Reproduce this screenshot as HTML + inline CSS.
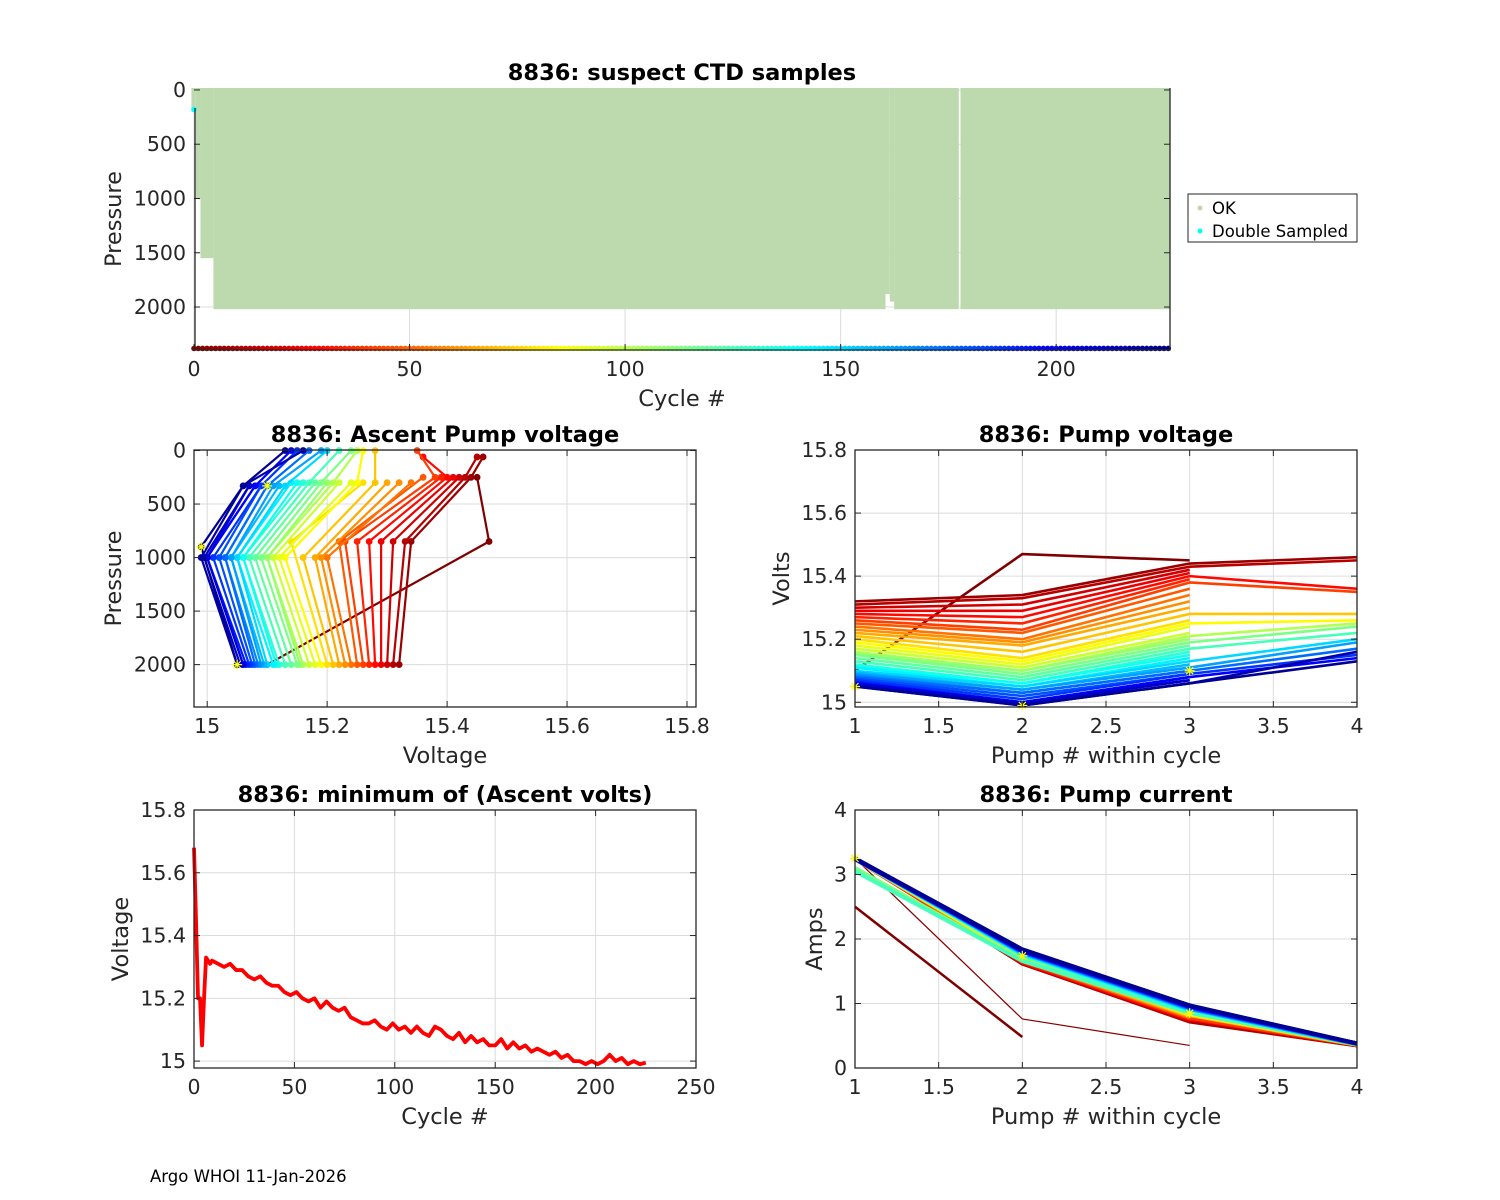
<!DOCTYPE html>
<html><head><meta charset="utf-8"><style>
body{margin:0;background:#fff;}
svg{display:block;font-family:"DejaVu Sans","Liberation Sans",sans-serif;}
.tk{font-size:20.5px;fill:#262626;}
.tt{font-size:22.5px;font-weight:bold;fill:#000;}
.al{font-size:22.5px;fill:#262626;}
</style></head><body>
<svg id="fig" width="1500" height="1200" viewBox="0 0 1500 1200" xmlns="http://www.w3.org/2000/svg">
<rect width="1500" height="1200" fill="#fff"/>
<text x="150" y="1182" font-size="16.5" fill="#000">Argo WHOI 11-Jan-2026</text>
</svg>
<script>
// ---------- data ----------
const nCycles = 227;
// profile depth segments: [startCycle, endCycle, maxPressure]
const segStart = [-0.6, 0.4, 1.5, 4.5, 160.4, 161.4, 162.4, 177.8];
const segEnd   = [0.4, 1.5, 4.5, 160.4, 161.4, 162.4, 177.4, 226.3];
const segMaxP  = [180, 1000, 1550, 2020, 1880, 1950, 2020, 2020];
const doubleSampledCycle = [0];
const doubleSampledP = [180];
const bottomP = 2400;

const sampCycles = [0,6,12,18,24,30,36,42,48,54,60,66,72,78,84,90,96,102,108,114,120,126,132,138,144,150,156,162,168,174,180,186,192,198,204,210,216,222];
const pump1V = [15.10,15.32,15.31,15.30,15.29,15.28,15.27,15.26,15.25,15.24,15.23,15.22,15.21,15.20,15.19,15.18,15.17,15.16,15.155,15.15,15.14,15.13,15.12,15.115,15.11,15.10,15.095,15.09,15.085,15.08,15.075,15.07,15.065,15.06,15.06,15.055,15.05,15.05];
const pump2V = [15.47,15.34,15.33,15.31,15.29,15.27,15.25,15.23,15.22,15.20,15.19,15.18,15.16,15.14,15.13,15.12,15.11,15.10,15.10,15.09,15.08,15.07,15.06,15.06,15.05,15.05,15.04,15.04,15.03,15.03,15.02,15.01,15.00,15.00,15.00,14.995,14.99,14.99];
const pump3V = [15.45,15.44,15.43,15.42,15.41,15.40,15.39,15.38,15.36,15.34,15.32,15.30,15.28,15.26,15.25,15.24,15.22,15.21,15.20,15.19,15.18,15.17,15.16,15.15,15.14,15.13,15.12,15.11,15.10,15.10,15.09,15.09,15.08,15.08,15.07,15.07,15.06,15.06];
const pump4V = [null,15.46,15.45,null,null,15.36,null,15.35,null,null,null,null,15.28,null,15.26,null,null,15.25,null,15.24,null,15.22,null,null,null,15.20,null,15.19,null,15.17,null,15.15,null,15.14,null,null,15.16,15.13];
const pump1P = [2000,2000,2000,2000,2000,2000,2000,2000,2000,2000,2000,2000,2000,2000,2000,2000,2000,2000,2000,2000,2000,2000,2000,2000,2000,2000,2000,2000,2000,2000,2000,2000,2000,2000,2000,2000,2000,2000];
const pump2P = [850,850,850,850,850,850,850,850,850,1000,1000,1000,1000,850,1000,1000,1000,1000,1000,1000,1000,1000,1000,1000,1000,1000,1000,1000,1000,1000,1000,1000,1000,1000,1000,1000,1000,900];
const pump3P = [250,250,250,250,250,250,250,250,250,300,300,300,300,300,300,300,300,300,300,300,300,300,300,300,300,330,330,330,330,330,330,330,330,330,330,330,330,330];
const pump4P = [60,60,60,60,60,60,0,0,0,0,0,0,0,0,0,0,0,0,0,0,0,0,0,0,0,0,0,0,0,0,0,0,0,0,0,0,0,0];
const pump1A = [2.50,3.25,3.25,3.25,3.24,3.25,3.25,3.24,3.25,3.25,3.24,3.25,3.25,3.25,3.24,3.25,3.25,3.24,3.25,3.10,3.25,3.05,3.25,3.24,3.25,3.25,3.24,3.25,3.25,3.24,3.25,3.25,3.24,3.25,3.25,3.24,3.25,3.25];
const pump2A = [0.48,1.62,1.62,1.63,1.64,1.64,1.65,1.66,1.67,1.67,1.68,1.69,1.70,1.70,1.71,1.72,1.72,1.73,1.74,1.66,1.75,1.66,1.76,1.76,1.77,1.78,1.78,1.79,1.79,1.80,1.80,1.81,1.81,1.82,1.82,1.83,1.83,1.84];
const pump3A = [null,0.72,0.73,0.74,0.75,0.76,0.77,0.78,0.79,0.80,0.80,0.81,0.82,0.83,0.84,0.85,0.85,0.86,0.87,0.85,0.88,0.86,0.89,0.90,0.90,0.91,0.92,0.92,0.93,0.93,0.94,0.94,0.95,0.95,0.96,0.96,0.97,0.97];
const pump4A = [null,0.35,0.35,null,null,0.36,null,0.36,null,null,null,null,0.36,null,0.37,null,null,0.37,null,0.37,null,0.37,null,null,null,0.37,null,0.37,null,0.38,null,0.38,null,0.38,null,null,0.38,0.38];
// anomalous early cycle current trace
const anomalyCycle = 2;
const anomalyA = [3.25, 0.76, 0.35];
const minCycles = [0,1,2,3,4,5,6,7,8,9,12,15,18,21,24,27,30,33,36,39,42,45,48,51,54,57,60,63,66,69,72,75,78,81,84,87,90,93,96,99,102,105,108,111,114,117,120,123,126,129,132,135,138,141,144,147,150,153,156,159,162,165,168,171,174,177,180,183,186,189,192,195,198,201,204,207,210,213,216,219,222,225];
const minVolts = [15.68,15.45,15.20,15.20,15.05,15.20,15.33,15.32,15.31,15.32,15.31,15.30,15.31,15.29,15.29,15.27,15.26,15.27,15.25,15.24,15.24,15.22,15.21,15.22,15.20,15.19,15.20,15.17,15.19,15.17,15.16,15.17,15.14,15.13,15.12,15.12,15.13,15.11,15.10,15.12,15.10,15.11,15.09,15.11,15.09,15.08,15.11,15.10,15.08,15.07,15.09,15.06,15.08,15.06,15.07,15.05,15.05,15.07,15.04,15.06,15.04,15.05,15.03,15.04,15.03,15.02,15.03,15.01,15.02,15.00,15.00,14.99,15.00,14.99,15.00,15.02,15.00,15.01,14.99,15.00,14.99,14.995];
const ticks1X = [0,50,100,150,200], ticks1Y = [0,500,1000,1500,2000];
const ticks2X = [15,15.2,15.4,15.6,15.8], ticks2Y = [0,500,1000,1500,2000];
const ticksPumpX = [1,1.5,2,2.5,3,3.5,4];
const ticksVoltY = [15,15.2,15.4,15.6,15.8];
const ticks4X = [0,50,100,150,200,250];
const ticksAmpY = [0,1,2,3,4];

// ---------- helpers ----------
const NS = "http://www.w3.org/2000/svg";
const svg = document.getElementById('fig');
function mk(tag, attrs, parent){ const e=document.createElementNS(NS,tag); for(const k in attrs) e.setAttribute(k,attrs[k]); (parent||svg).appendChild(e); return e; }
function jet(t){ const c=v=>Math.max(0,Math.min(1,v)); const r=c(1.5-Math.abs(4*t-3)), g=c(1.5-Math.abs(4*t-2)), b=c(1.5-Math.abs(4*t-1)); return `rgb(${Math.round(r*255)},${Math.round(g*255)},${Math.round(b*255)})`; }
function cyc(c){ return jet(1 - c/(nCycles-1)); }
function fmt(v){ return String(Math.round(v*10)/10); }

function axes(o){
  const g = mk('g',{});
  
  
  o.g = g;
  o.sx = v => o.L + (v-o.x0)/(o.x1-o.x0)*(o.R-o.L);
  o.sy = v => o.B - (v-o.y0)/(o.y1-o.y0)*(o.B-o.T);
  if(o.rev) o.sy = v => o.T + (v-o.y0)/(o.y1-o.y0)*(o.B-o.T);
  mk('rect',{x:o.L,y:o.T,width:o.R-o.L,height:o.B-o.T,fill:'#fff'},g);
  const grid = mk('g',{},g);
  
  
  o.xt.forEach(v=>{ const x=o.sx(v); mk('line',{x1:x,x2:x,y1:o.T,y2:o.B,stroke:'#dcdcdc','stroke-width':1},grid); });
  o.yt.forEach(v=>{ const y=o.sy(v); mk('line',{x1:o.L,x2:o.R,y1:y,y2:y,stroke:'#dcdcdc','stroke-width':1},grid); });
  o.plot = mk('g',{},g);
  
  
  return o;
}
function finish(o){
  const g=o.g;
  const fr = mk('g',{},g);
  
  
  if(o.noTop){
    mk('polyline',{points:`${o.L+1},${o.T+20} ${o.L+1},${o.B} ${o.R},${o.B} ${o.R},${o.T}`,fill:'none',stroke:'#262626','stroke-width':1.3},fr);
  } else mk('rect',{x:o.L,y:o.T,width:o.R-o.L,height:o.B-o.T,fill:'none',stroke:'#262626','stroke-width':1.3},fr);
  const tl=6;
  o.xt.forEach(v=>{ const x=o.sx(v);
    mk('line',{x1:x,x2:x,y1:o.B,y2:o.B-tl,stroke:'#262626'},fr);
    if(!o.noTop) mk('line',{x1:x,x2:x,y1:o.T,y2:o.T+tl,stroke:'#262626'},fr);
    const t=mk('text',{x:x,y:o.B+26,'text-anchor':'middle',class:'tk'},g); t.textContent=fmt(v);
    
    
  });
  o.yt.forEach(v=>{ const y=o.sy(v);
    mk('line',{x1:o.L,x2:o.L+tl,y1:y,y2:y,stroke:'#262626'},fr);
    mk('line',{x1:o.R,x2:o.R-tl,y1:y,y2:y,stroke:'#262626'},fr);
    const t=mk('text',{x:o.L-8,y:y+7,'text-anchor':'end',class:'tk'},g); t.textContent=fmt(v);
    
    
  });
  const cx=(o.L+o.R)/2, cy=(o.T+o.B)/2;
  const tt=mk('text',{x:cx,y:o.T-8,'text-anchor':'middle',class:'tt'},g); tt.textContent=o.title;
  
  
  const xl=mk('text',{x:cx,y:o.B+56,'text-anchor':'middle',class:'al'},g); xl.textContent=o.xlab;
  
  
  const yl=mk('text',{x:o.ylx,y:cy,'text-anchor':'middle',class:'al',transform:`rotate(-90 ${o.ylx} ${cy})`},g); yl.textContent=o.ylab;
  
  
}
function star(par,x,y){ const s=5; mk('path',{d:`M${x-s},${y}H${x+s}M${x},${y-s}V${y+s}M${x-s*0.7},${y-s*0.7}L${x+s*0.7},${y+s*0.7}M${x-s*0.7},${y+s*0.7}L${x+s*0.7},${y-s*0.7}`,stroke:'#ffff00','stroke-width':1.2},par); }

// ---------- panel 1 ----------
const A1 = axes({name:'suspect-ctd-panel',L:194,R:1170,T:88,B:350,x0:0,x1:226.4,y0:-18,y1:2396,rev:true,xt:ticks1X,yt:ticks1Y,noTop:true,title:'8836: suspect CTD samples',xlab:'Cycle #',ylab:'Pressure',ylx:121});
segStart.forEach((s,i)=>{
  const x0=A1.sx(s), x1=A1.sx(segEnd[i]);
  const r=mk('rect',{x:x0,y:A1.T,width:x1-x0,height:A1.sy(segMaxP[i])-A1.T,fill:'#bddaaf'},A1.plot);
  
  
});
doubleSampledCycle.forEach((c,i)=>{
  const d=mk('circle',{cx:A1.sx(c),cy:A1.sy(doubleSampledP[i]),r:2.8,fill:'#00ffff'},A1.plot);
  
  
});
for(let c=0;c<nCycles;c++){
  const d=mk('circle',{cx:A1.sx(c),cy:A1.sy(bottomP)-2,r:2.8,fill:cyc(c)},A1.plot);
  
  
}
finish(A1);
// legend
const lg = mk('g',{});


mk('rect',{x:1188,y:194,width:169,height:48,fill:'#fff',stroke:'#262626','stroke-width':1},lg);
mk('circle',{cx:1200,cy:208,r:2.5,fill:'#bddaaf'},lg);
let lt=mk('text',{x:1212,y:214,'font-size':16.5,fill:'#000'},lg); lt.textContent='OK';


mk('circle',{cx:1200,cy:231,r:2.5,fill:'#00ffff'},lg);
lt=mk('text',{x:1212,y:237,'font-size':16.5,fill:'#000'},lg); lt.textContent='Double Sampled';



// ---------- panel 2 ----------
const A2 = axes({name:'ascent-pump-voltage-panel',L:194,R:696,T:450,B:707,x0:14.978,x1:15.815,y0:-5,y1:2396,rev:true,xt:ticks2X,yt:ticks2Y,title:'8836: Ascent Pump voltage',xlab:'Voltage',ylab:'Pressure',ylx:121});
sampCycles.forEach((c,i)=>{
  const V=[pump1V[i],pump2V[i],pump3V[i],pump4V[i]], P=[pump1P[i],pump2P[i],pump3P[i],pump4P[i]];
  const pts=[]; V.forEach((v,k)=>{ if(v!=null) pts.push([A2.sx(v),A2.sy(P[k])]); });
  const col=cyc(c);
  const pl=mk('polyline',{points:pts.map(p=>p.join(',')).join(' '),fill:'none',stroke:col,'stroke-width':2.2},A2.plot);
  
  
  pts.forEach(p=>{ const d=mk('circle',{cx:p[0],cy:p[1],r:3.4,fill:col},A2.plot);
    
     });
});
star(A2.plot,A2.sx(pump1V[37]),A2.sy(pump1P[37]));
star(A2.plot,A2.sx(pump2V[37]),A2.sy(pump2P[37]));
star(A2.plot,A2.sx(pump3V[33]+0.02),A2.sy(pump3P[33]));
finish(A2);

// ---------- panel 3 ----------
const A3 = axes({name:'pump-voltage-panel',L:855,R:1357,T:450,B:707,x0:1,x1:4,y0:14.985,y1:15.8,xt:ticksPumpX,yt:ticksVoltY,title:'8836: Pump voltage',xlab:'Pump # within cycle',ylab:'Volts',ylx:789});
sampCycles.forEach((c,i)=>{
  const V=[pump1V[i],pump2V[i],pump3V[i],pump4V[i]];
  const pts=[]; V.forEach((v,k)=>{ if(v!=null) pts.push([A3.sx(k+1),A3.sy(v)]); });
  const pl=mk('polyline',{points:pts.map(p=>p.join(',')).join(' '),fill:'none',stroke:cyc(c),'stroke-width':2.6},A3.plot);
  
  
});
star(A3.plot,A3.sx(1),A3.sy(pump1V[37]));
star(A3.plot,A3.sx(2),A3.sy(pump2V[37]));
star(A3.plot,A3.sx(3),A3.sy(pump3V[33]+0.02));
finish(A3);

// ---------- panel 4 ----------
const A4 = axes({name:'minimum-ascent-volts-panel',L:194,R:696,T:810,B:1068,x0:0,x1:250,y0:14.978,y1:15.8,xt:ticks4X,yt:ticksVoltY,title:'8836: minimum of (Ascent volts)',xlab:'Cycle #',ylab:'Voltage',ylx:128});
const mpts=minVolts.map((v,i)=>[A4.sx(minCycles[i]),A4.sy(v)]);
const ml=mk('polyline',{points:mpts.map(p=>p.join(',')).join(' '),fill:'none',stroke:'#ff0000','stroke-width':3.8,'stroke-linejoin':'round'},A4.plot);


finish(A4);

// ---------- panel 5 ----------
const A5 = axes({name:'pump-current-panel',L:855,R:1357,T:810,B:1068,x0:1,x1:4,y0:0,y1:4,xt:ticksPumpX,yt:ticksAmpY,title:'8836: Pump current',xlab:'Pump # within cycle',ylab:'Amps',ylx:822});
const an=mk('polyline',{points:anomalyA.map((v,k)=>A5.sx(k+1)+','+A5.sy(v)).join(' '),fill:'none',stroke:cyc(anomalyCycle),'stroke-width':1.2},A5.plot);


sampCycles.forEach((c,i)=>{
  const V=[pump1A[i],pump2A[i],pump3A[i],pump4A[i]];
  const pts=[]; V.forEach((v,k)=>{ if(v!=null) pts.push([A5.sx(k+1),A5.sy(v)]); });
  const pl=mk('polyline',{points:pts.map(p=>p.join(',')).join(' '),fill:'none',stroke:cyc(c),'stroke-width':i===0?2.5:4},A5.plot);
  
  
});
star(A5.plot,A5.sx(1),A5.sy(pump1A[37]));
star(A5.plot,A5.sx(2),A5.sy(pump2A[37]-0.1));
star(A5.plot,A5.sx(3),A5.sy(pump3A[37]-0.12));
finish(A5);
</script>
</body></html>
